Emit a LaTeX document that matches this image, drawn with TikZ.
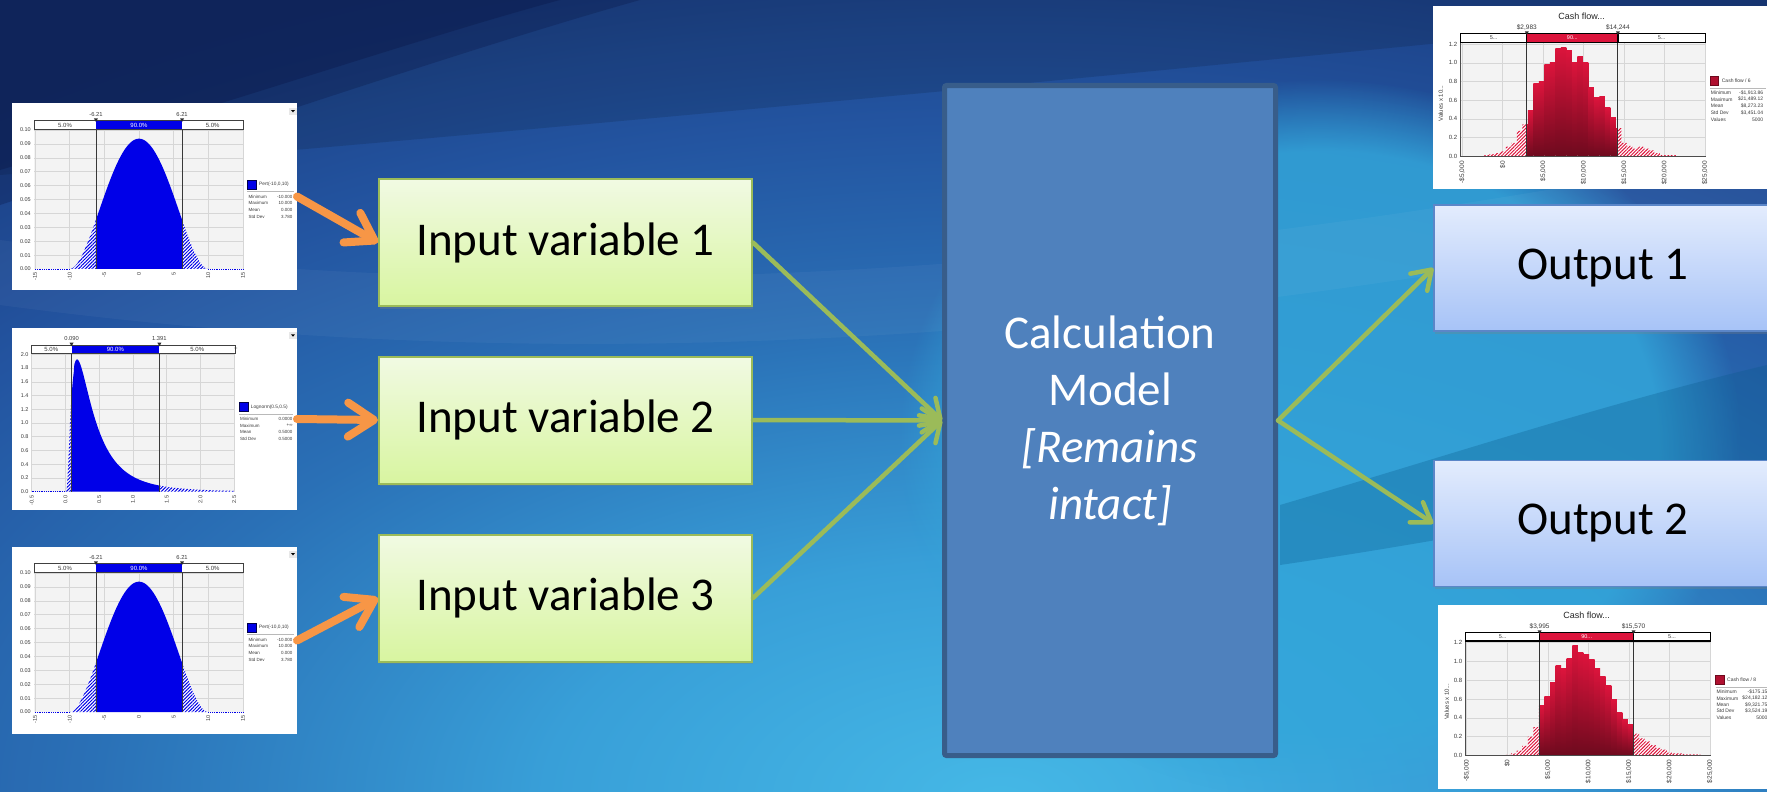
\documentclass[tikz,border=0pt]{standalone}
\usepackage{fontspec}
\setmainfont{Carlito}
\newfontfamily\chartfont{Liberation Sans}
\usetikzlibrary{arrows.meta,shadows,patterns.meta,fadings}
\definecolor{bgA}{HTML}{45B8E6}
\definecolor{bgB}{HTML}{389FD8}
\definecolor{bgC}{HTML}{2A70B6}
\definecolor{bgD}{HTML}{2354A0}
\definecolor{bgE}{HTML}{1A3C80}
\definecolor{topDark}{HTML}{0C1C4E}
\definecolor{brightSpot}{HTML}{33A6DA}
\definecolor{bandDark}{HTML}{0A5A8C}
\definecolor{ingreen}{HTML}{9BBB59}
\definecolor{inTop}{HTML}{F1FAE3}
\definecolor{inBot}{HTML}{D8F5A0}
\definecolor{outTop}{HTML}{E3ECFD}
\definecolor{outBot}{HTML}{A7C3F7}
\definecolor{outBorder}{HTML}{5B86C8}
\definecolor{calcFill}{HTML}{4F81BD}
\definecolor{calcBorder}{HTML}{385D8A}
\definecolor{arrowOrange}{HTML}{F79646}
\definecolor{pertBlue}{HTML}{0000E8}
\definecolor{cfRed}{HTML}{DC143C}
\definecolor{cfDark}{HTML}{6E0A1E}
\definecolor{plotBg}{HTML}{F3F3F3}
\definecolor{gridC}{HTML}{D6D6D6}
\definecolor{axisTxt}{HTML}{3A3A3A}
\pgfdeclareradialshading{bgrad}{\pgfpoint{0bp}{0bp}}{color(0bp)=(bgA); color(6bp)=(bgB); color(12bp)=(bgC); color(17bp)=(bgD); color(22bp)=(bgE); color(50bp)=(bgE)}
\tikzset{
 inbox/.style={draw=ingreen, line width=2pt, top color=inTop, bottom color=inBot, minimum width=373pt, minimum height=127pt, inner sep=0pt, font=\fontsize{47}{56}\selectfont, text=black, drop shadow={shadow xshift=1pt,shadow yshift=-2.5pt,opacity=0.3}},
 outbox/.style={draw=outBorder, line width=1.5pt, top color=outTop, bottom color=outBot, minimum width=338pt, minimum height=126pt, inner sep=0pt, font=\fontsize{47}{56}\selectfont, text=black, drop shadow={shadow xshift=1pt,shadow yshift=-2.5pt,opacity=0.3}},
 calcbox/.style={draw=calcBorder, line width=5pt, fill=calcFill, rounded corners=2pt, minimum width=331pt, minimum height=670pt, align=center, text=white, font=\fontsize{47}{57}\selectfont},
 chartbox/.style={fill=white, inner sep=0pt, outer sep=0pt},
 orangearrow/.style={draw=arrowOrange, line width=8pt, line cap=round, -{Straight Barb[length=26pt,width=34pt,round]}},
 greenarrow/.style={draw=ingreen, line width=4.5pt, line cap=round, -{Straight Barb[length=18pt,width=24pt,round]}},
 gridline/.style={draw=gridC, line width=0.5pt},
 ctxt/.style={font={\chartfont\fontsize{#1}{#1}\selectfont}, inner sep=0pt, text=axisTxt},
 hatchblue/.style={preaction={fill=white}, pattern={Lines[angle=45,distance=2.4pt,line width=1pt]}, pattern color=pertBlue},
 hatchred/.style={preaction={fill=white}, pattern={Lines[angle=45,distance=2.4pt,line width=1pt]}, pattern color=cfRed},
 marker/.style={fill=gray!35!black},
}
\newcommand{\pertcontent}{%
 \fill[gray!18] (866,54) rectangle (890,74);
 \fill[black] (873,60) -- (885,60) -- (879,67) -- cycle;
 \fill[plotBg] (103,118) rectangle (729,537);
 \foreach \v in {-15,-10,...,15} {\draw[gridline] ({417+20.8*(\v)},118) -- ({417+20.8*(\v)},537);}
 \foreach \k in {1,...,10} {\draw[gridline] (103,{537-41.7*\k}) -- (729,{537-41.7*\k});}
 \path[hatchblue] (209,537) -- plot[domain=-10:-6.21,samples=30] ({417+20.8*\x},{pertY(\x)}) -- (287.8,537) -- cycle;
 \path[hatchblue] (546.2,537) -- plot[domain=6.21:10,samples=30] ({417+20.8*\x},{pertY(\x)}) -- (625,537) -- cycle;
 \fill[pertBlue] (287.8,537) -- plot[domain=-6.21:6.21,samples=90] ({417+20.8*\x},{pertY(\x)}) -- (546.2,537) -- cycle;
 \draw[pertBlue, densely dotted, line width=0.8pt] (105,537) -- (209,537) (625,537) -- (729,537);
 \draw[gray!45!black, line width=0.8pt] (287.8,92) -- (287.8,537) (546.2,92) -- (546.2,537);
 \fill[white] (103,92) rectangle (729,118);
 \fill[pertBlue] (287.8,92) rectangle (546.2,118);
 \draw[gray!50!black, line width=0.8pt] (103,92) rectangle (729,118);
 \fill[marker] (281.8,85) -- (293.8,85) -- (287.8,96) -- cycle;
 \fill[marker] (540.2,85) -- (552.2,85) -- (546.2,96) -- cycle;
 \node[ctxt=6] (b1) at (195,105) {5.0\%};
 \node[ctxt=6, text=white] (b2) at (417,105) {90.0\%};
 \node[ctxt=6] (b3) at (638,105) {5.0\%};
 \node[ctxt=5.8] (l1) at (287.8,73) {-6.21};
 \node[ctxt=5.8] (l2) at (546.2,73) {6.21};
 \foreach \lab [count=\i from 0] in {0.00,0.01,0.02,0.03,0.04,0.05,0.06,0.07,0.08,0.09,0.10} {\node[ctxt=5.5, anchor=east] (y\i) at (93,{537-4170*\lab}) {\lab};}
 \foreach \lab [count=\i] in {-15,-10,-5,0,5,10,15} {\node[ctxt=5.5, rotate=90, anchor=east] (x\i) at ({417+20.8*(\lab)},546) {\lab};}
 \filldraw[fill=pertBlue, draw=blue!30!black, line width=0.6pt] (742,270) rectangle (770,297);
 \node[ctxt=4.8, anchor=west] (leg) at (777,283) {Pert(-10,0,10)};
 \draw[gray!55, line width=0.8pt] (742,304) -- (882,304);
 \foreach \a/\b/\yy [count=\i] in {Minimum/-10.000/320, Maximum/10.000/340, Mean/0.000/360, Std Dev/3.780/380} {\node[ctxt=4.5, anchor=west] (sl\i) at (745,\yy) {\a}; \node[ctxt=4.5, anchor=east] (sv\i) at (878,\yy) {\b};}
}
\begin{document}
\begin{tikzpicture}[x=1pt,y=-1pt,
 declare function={pq(\t)=(\t+10)*(10-\t); pertY(\t)=537-0.039094*pq(\t)*pq(\t); lnY(\t)=530-206*exp(-(ln(\t)+1.0397)*(ln(\t)+1.0397)/1.3863)/(2.087*\t);}]
\useasboundingbox (0,0) rectangle (1767,792);
% background
\begin{scope}
 \clip (0,0) rectangle (1767,792);
 \fill[bgE] (0,0) rectangle (1767,792);
 \path[shading=bgrad] (1000,800) ellipse [x radius=1900pt, y radius=1000pt];
 \fill[brightSpot, opacity=0.85, path fading=circle with fuzzy edge 20 percent] (1320,440) ellipse [x radius=420pt, y radius=360pt];
 \fill[white, opacity=0.04] (0,240) .. controls (450,300) and (1000,300) .. (1767,150) -- (1767,215) .. controls (1000,370) and (450,365) .. (0,305) -- cycle;
 \fill[black, opacity=0.12] (0,0) -- (1767,0) -- (1767,12) .. controls (1400,45) and (900,100) .. (0,175) -- cycle;
 \fill[topDark, opacity=0.35] (0,0) -- (640,0) .. controls (480,45) and (260,120) .. (0,205) -- cycle;
 \fill[topDark, opacity=0.45] (0,0) -- (560,0) .. controls (430,35) and (240,100) .. (0,170) -- cycle;
 \fill[bandDark, opacity=0.3] (1280,505) .. controls (1450,455) and (1600,405) .. (1767,365) -- (1767,480) .. controls (1600,510) and (1450,540) .. (1280,565) -- cycle;
\end{scope}
% input charts
\node[chartbox, minimum width=285pt, minimum height=187pt] (chartA) at (154.5,196.5) {};
\begin{scope}[shift={(0,90)}, scale=1/3, name prefix=A-]
 \pertcontent
\end{scope}
\node[chartbox, minimum width=285pt, minimum height=182pt] (chartB) at (154.5,419) {};
\begin{scope}[shift={(0,315)}, scale=1/3, name prefix=B-]
 \fill[gray!18] (866,52) rectangle (890,72);
 \fill[black] (873,58) -- (885,58) -- (879,65) -- cycle;
 \fill[plotBg] (93,115) rectangle (705,530);
 \foreach \v in {-0.5,0,0.5,1,1.5,2,2.5} {\draw[gridline] ({196.5+202.5*(\v)},115) -- ({196.5+202.5*(\v)},530);}
 \foreach \k in {1,...,10} {\draw[gridline] (93,{530-41.2*\k}) -- (705,{530-41.2*\k});}
 \path[hatchblue] (197.5,530) -- plot[domain=0.005:0.09,samples=25] ({196.5+202.5*\x},{lnY(\x)}) -- (214.7,530) -- cycle;
 \path[hatchblue] (478.2,530) -- plot[domain=1.391:2.5,samples=40] ({196.5+202.5*\x},{lnY(\x)}) -- (702.75,530) -- cycle;
 \fill[pertBlue] (214.7,530) -- plot[domain=0.09:1.391,samples=160] ({196.5+202.5*\x},{lnY(\x)}) -- (478.2,530) -- cycle;
 \draw[pertBlue, densely dotted, line width=0.8pt] (95,530) -- (197.5,530);
 \draw[gray!45!black, line width=0.8pt] (214.7,90) -- (214.7,530) (478.2,90) -- (478.2,530);
 \fill[white] (93,90) rectangle (705,115);
 \fill[pertBlue] (214.7,90) rectangle (478.2,115);
 \draw[gray!50!black, line width=0.8pt] (93,90) rectangle (705,115);
 \fill[marker] (208.7,83) -- (220.7,83) -- (214.7,94) -- cycle;
 \fill[marker] (472.2,83) -- (484.2,83) -- (478.2,94) -- cycle;
 \node[ctxt=6] (b1) at (154,103) {5.0\%};
 \node[ctxt=6, text=white] (b2) at (346,103) {90.0\%};
 \node[ctxt=6] (b3) at (592,103) {5.0\%};
 \node[ctxt=6] (plus) at (708,101) {+};
 \node[ctxt=5.8] (l1) at (214.7,71) {0.090};
 \node[ctxt=5.8] (l2) at (478.2,71) {1.391};
 \foreach \lab [count=\i from 0] in {0.0,0.2,0.4,0.6,0.8,1.0,1.2,1.4,1.6,1.8,2.0} {\node[ctxt=5.5, anchor=east] (y\i) at (86,{530-206*\lab}) {\lab};}
 \foreach \lab [count=\i] in {-0.5,0.0,0.5,1.0,1.5,2.0,2.5} {\node[ctxt=5.5, rotate=90, anchor=east] (x\i) at ({196.5+202.5*(\lab)},542) {\lab};}
 \filldraw[fill=pertBlue, draw=blue!30!black, line width=0.6pt] (718,262) rectangle (745,290);
 \node[ctxt=4.8, anchor=west] (leg) at (752,276) {Lognorm(0.5,0.5)};
 \draw[gray!55, line width=0.8pt] (718,298) -- (880,298);
 \foreach \a/\b/\yy [count=\i] in {Minimum/0.0000/312, Maximum/+∞/332, Mean/0.5000/352, Std Dev/0.5000/372} {\node[ctxt=4.5, anchor=west] (sl\i) at (720,\yy) {\a}; \node[ctxt=4.5, anchor=east] (sv\i) at (878,\yy) {\b};}
\end{scope}
\node[chartbox, minimum width=285pt, minimum height=187pt] (chartC) at (154.5,640.5) {};
\begin{scope}[shift={(0,533)}, scale=1/3, name prefix=C-]
 \pertcontent
\end{scope}
% output charts
\def\cfTopData{0.01,0.02,0.03,0.05,0.10,0.14,0.27,0.34,0.49,0.78,0.80,0.98,1.01,1.16,1.17,1.13,1.01,1.07,1.00,0.74,0.63,0.64,0.52,0.41,0.30,0.14,0.11,0.08,0.10,0.08,0.06,0.03,0.01,0.01,0.01}
\def\cfBotData{0.005,0.02,0.05,0.10,0.20,0.30,0.53,0.63,0.78,0.96,0.92,1.03,1.17,1.10,1.07,1.02,0.93,0.84,0.74,0.59,0.46,0.38,0.33,0.23,0.18,0.15,0.11,0.08,0.06,0.03,0.02,0.02,0.01,0.01,0.01}
\node[chartbox, minimum width=344pt, minimum height=183pt] (chartD) at (1605,97.5) {};
\begin{scope}[shift={(1420,0)}, scale=1/3, name prefix=D-]
 \node[ctxt=9, text=black!85] (title) at (485,50) {Cash flow...};
 \fill[plotBg] (122,127) rectangle (857,468);
 \foreach \v in {-5,0,...,25} {\draw[gridline] ({248+24.27*(\v)},127) -- ({248+24.27*(\v)},468);}
 \foreach \k in {1,...,6} {\draw[gridline] (122,{468-55.84*\k}) -- (857,{468-55.84*\k});}
 \begin{scope}
  \clip (122,100) rectangle (320.4,468);
  \path[hatchred] \foreach \h [count=\k from 0] in \cfTopData {({191.5+16.5*\k},468) rectangle ({208+16.5*\k},{468-279.2*\h})};
 \end{scope}
 \begin{scope}
  \clip (593.7,100) rectangle (857,468);
  \path[hatchred] \foreach \h [count=\k from 0] in \cfTopData {({191.5+16.5*\k},468) rectangle ({208+16.5*\k},{468-279.2*\h})};
 \end{scope}
 \begin{scope}
  \clip (320.4,100) rectangle (593.7,468);
  \foreach \h [count=\k from 0] in \cfTopData {\shade[top color=cfRed, bottom color=cfDark] ({191.5+16.5*\k},468) rectangle ({208+16.5*\k},{468-279.2*\h});}
 \end{scope}
 \draw[gray!60!black, line width=0.6pt] (122,127) -- (122,468) -- (857,468);
 \draw[gray!40!black, line width=0.9pt] (320.4,100) -- (320.4,468) (593.7,100) -- (593.7,468);
 \fill[white] (122,100) rectangle (857,127);
 \fill[cfRed] (320.4,100) rectangle (593.7,127);
 \draw[black, line width=1.2pt] (122,100) rectangle (857,127) (320.4,100) -- (320.4,127) (593.7,100) -- (593.7,127);
 \fill[marker] (314.4,94) -- (326.4,94) -- (320.4,105) -- cycle;
 \fill[marker] (587.7,94) -- (599.7,94) -- (593.7,105) -- cycle;
 \node[ctxt=5.5] (b1) at (221,114) {5...};
 \node[ctxt=5.5, text=white] (b2) at (457,114) {90...};
 \node[ctxt=5.5] (b3) at (725,114) {5...};
 \node[ctxt=6.5] (l1) at (320.4,83) {\$2,983};
 \node[ctxt=6.5] (l2) at (593.7,83) {\$14,244};
 \foreach \lab [count=\i from 0] in {0.0,0.2,0.4,0.6,0.8,1.0,1.2} {\node[ctxt=6, anchor=east] (y\i) at (112,{468-279.2*\lab}) {\lab};}
 \node[ctxt=6, rotate=90] (ytitle) at (62,310) {Values x 10...};
 \foreach \v/\lab [count=\i] in {-5/{-\$5,000}, 0/{\$0}, 5/{\$5,000}, 10/{\$10,000}, 15/{\$15,000}, 20/{\$20,000}, 25/{\$25,000}} {\node[ctxt=6.5, rotate=90, anchor=east] (x\i) at ({248+24.27*(\v)},483) {\lab};}
 \filldraw[fill=cfRed!80!black, draw=cfDark, line width=0.8pt] (870,228) rectangle (895,255);
 \node[ctxt=5, anchor=west] (leg) at (905,242) {Cash flow / 6};
 \draw[gray!55, line width=1pt] (870,265) -- (1038,265);
 \foreach \a/\b/\yy [count=\i] in {Minimum/{-\$1,913.86}/278, Maximum/{\$21,489.12}/298, Mean/{\$8,273.23}/318, Std Dev/{\$3,451.04}/338, Values/5000/358} {\node[ctxt=5, anchor=west] (sl\i) at (872,\yy) {\a}; \node[ctxt=5, anchor=east] (sv\i) at (1030,\yy) {\b};}
\end{scope}
\node[chartbox, minimum width=339pt, minimum height=184pt] (chartE) at (1607.5,697) {};
\begin{scope}[shift={(1420,595)}, scale=1/3, name prefix=E-]
 \node[ctxt=9, text=black!85] (title) at (500,62) {Cash flow...};
 \fill[plotBg] (137,138) rectangle (872,481);
 \foreach \v in {-5,0,...,25} {\draw[gridline] ({261.7+24.33*(\v)},138) -- ({261.7+24.33*(\v)},481);}
 \foreach \k in {1,...,6} {\draw[gridline] (137,{481-56.34*\k}) -- (872,{481-56.34*\k});}
 \begin{scope}
  \clip (137,112) rectangle (358.9,481);
  \path[hatchred] \foreach \h [count=\k from 0] in \cfBotData {({256.5+16.7*\k},481) rectangle ({273.2+16.7*\k},{481-281.7*\h})};
 \end{scope}
 \begin{scope}
  \clip (640.5,112) rectangle (872,481);
  \path[hatchred] \foreach \h [count=\k from 0] in \cfBotData {({256.5+16.7*\k},481) rectangle ({273.2+16.7*\k},{481-281.7*\h})};
 \end{scope}
 \begin{scope}
  \clip (358.9,112) rectangle (640.5,481);
  \foreach \h [count=\k from 0] in \cfBotData {\shade[top color=cfRed, bottom color=cfDark] ({256.5+16.7*\k},481) rectangle ({273.2+16.7*\k},{481-281.7*\h});}
 \end{scope}
 \draw[gray!60!black, line width=0.6pt] (137,138) -- (137,481) -- (872,481);
 \draw[gray!40!black, line width=0.9pt] (358.9,112) -- (358.9,481) (640.5,112) -- (640.5,481);
 \fill[white] (137,112) rectangle (872,138);
 \fill[cfRed] (358.9,112) rectangle (640.5,138);
 \draw[black, line width=1.2pt] (137,112) rectangle (872,138) (358.9,112) -- (358.9,138) (640.5,112) -- (640.5,138);
 \fill[marker] (352.9,106) -- (364.9,106) -- (358.9,117) -- cycle;
 \fill[marker] (634.5,106) -- (646.5,106) -- (640.5,117) -- cycle;
 \node[ctxt=5.5] (b1) at (248,125) {5...};
 \node[ctxt=5.5, text=white] (b2) at (500,125) {90...};
 \node[ctxt=5.5] (b3) at (756,125) {5...};
 \node[ctxt=6.5] (l1) at (358.9,94) {\$3,995};
 \node[ctxt=6.5] (l2) at (640.5,94) {\$15,570};
 \foreach \lab [count=\i from 0] in {0.0,0.2,0.4,0.6,0.8,1.0,1.2} {\node[ctxt=6, anchor=east] (y\i) at (127,{481-281.7*\lab}) {\lab};}
 \node[ctxt=6, rotate=90] (ytitle) at (80,320) {Values x 10...};
 \foreach \v/\lab [count=\i] in {-5/{-\$5,000}, 0/{\$0}, 5/{\$5,000}, 10/{\$10,000}, 15/{\$15,000}, 20/{\$20,000}, 25/{\$25,000}} {\node[ctxt=6.5, rotate=90, anchor=east] (x\i) at ({261.7+24.33*(\v)},493) {\lab};}
 \filldraw[fill=cfRed!80!black, draw=cfDark, line width=0.8pt] (887,240) rectangle (912,268);
 \node[ctxt=5, anchor=west] (leg) at (921,254) {Cash flow / 8};
 \draw[gray!55, line width=1pt] (887,276) -- (1050,276);
 \foreach \a/\b/\yy [count=\i] in {Minimum/{-\$175.15}/290, Maximum/{\$24,182.12}/310, Mean/{\$9,321.75}/329, Std Dev/{\$3,524.19}/348, Values/5000/368} {\node[ctxt=5, anchor=west] (sl\i) at (889,\yy) {\a}; \node[ctxt=5, anchor=east] (sv\i) at (1043,\yy) {\b};}
\end{scope}
% main boxes
\node[inbox] (in1) at (565.5,242.5) {Input variable 1};
\node[inbox] (in2) at (565.5,420) {Input variable 2};
\node[inbox] (in3) at (565.5,598) {Input variable 3};
\node[calcbox] (calc) at (1110,420.5) {Calculation\\Model\\\textit{[Remains}\\\textit{intact]}};
\node[outbox] (out1) at (1603,268) {Output 1};
\node[outbox] (out2) at (1603,523.5) {Output 2};
% connectors
\draw[orangearrow] (chartA.east) -- (in1.west);
\draw[orangearrow] (chartB.east) -- (in2.west);
\draw[orangearrow] (chartC.east) -- (in3.west);
\draw[greenarrow] (in1.east) -- (calc.west);
\draw[greenarrow] (in2.east) -- (calc.west);
\draw[greenarrow] (in3.east) -- (calc.west);
\draw[greenarrow] (calc.east) -- (out1.west);
\draw[greenarrow] (calc.east) -- (out2.west);
\end{tikzpicture}
\end{document}
